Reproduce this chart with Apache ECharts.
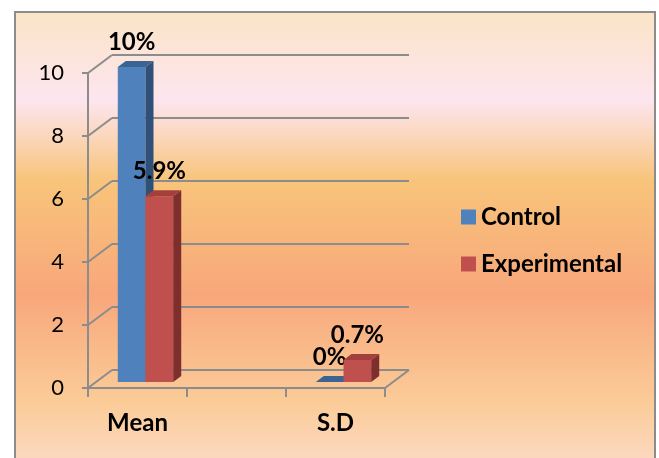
<!DOCTYPE html>
<html>
<head>
<meta charset="utf-8">
<script src="https://cdn.jsdelivr.net/npm/echarts@6/dist/echarts.min.js"></script>
<style>
html, body { margin: 0; padding: 0; background: #fff; }
#chart { width: 659px; height: 458px; }
</style>
</head>
<body>
<div id="chart"></div>
<script>
// data
var categories = ['Mean', '', 'S.D'];
var controlData = [10, null, 0];
var experimentalData = [5.9, null, 0.7];
var yTicks = [0, 2, 4, 6, 8, 10];

var GRID_COLOR = '#8c8c8c';
var FONT = 'Lato';
// oblique depth of the 3d box (px)
var DX = 24, DY = 18;

var chart = echarts.init(document.getElementById('chart'));

function toPairs(arr) {
    var out = [];
    arr.forEach(function (v, i) {
        if (v !== null) out.push([i, v]);
    });
    return out;
}

function renderWall(params, api) {
    var v = api.value(1);
    var y = api.coord([0, v])[1];
    var x0 = params.coordSys.x;
    var st = { stroke: GRID_COLOR, lineWidth: 2 };
    var children = [{ type: 'line', shape: { x1: x0, y1: y, x2: x0 + DX, y2: y - DY }, style: st }];
    if (v === 0) {
        var x1 = x0 + params.coordSys.width;
        children.push({ type: 'line', shape: { x1: x1, y1: y, x2: x1 + DX, y2: y - DY }, style: st });
    }
    return { type: 'group', children: children };
}

function makeBarRender(k, colors) {
    return function (params, api) {
        var idx = api.value(0);
        var val = api.value(1);
        var top = api.coord([idx, val]);
        var base = api.coord([idx, 0]);
        var bw = api.size([1, 0])[0];
        var w = bw * 0.28;
        // bar sits between 1/3 and 2/3 of the depth
        var ox = DX / 3, oy = DY / 3;
        var xl = top[0] - w + k * w + ox;
        var xr = xl + w;
        var yt = top[1] - oy;
        var yb = base[1] - oy;
        return {
            type: 'group',
            children: [
                { type: 'rect', shape: { x: xl, y: yt, width: w, height: yb - yt }, style: { fill: colors[0] } },
                { type: 'polygon', shape: { points: [[xl, yt], [xr, yt], [xr + ox, yt - oy], [xl + ox, yt - oy]] }, style: { fill: colors[1] } },
                { type: 'polygon', shape: { points: [[xr, yt], [xr + ox, yt - oy], [xr + ox, yb - oy], [xr, yb]] }, style: { fill: colors[2] } },
                {
                    type: 'text',
                    style: {
                        x: xl + w / 2, y: yt - 25,
                        text: val + '%',
                        align: 'center', verticalAlign: 'middle',
                        fill: '#000', font: 'bold 24px ' + FONT
                    }
                }
            ]
        };
    };
}

var option = {
    backgroundColor: '#fff',
    animation: false,
    graphic: [{
        type: 'rect',
        z: -100,
        silent: true,
        shape: { x: 15, y: 12, width: 640, height: 470 },
        style: {
            stroke: GRID_COLOR,
            lineWidth: 2,
            fill: new echarts.graphic.LinearGradient(0, 0, 0, 1, [
                { offset: 0, color: '#fbe4c6' },
                { offset: 0.19, color: '#fde5ef' },
                { offset: 0.36, color: '#f8c47a' },
                { offset: 0.6, color: '#f8a77b' },
                { offset: 0.83, color: '#fbcc98' },
                { offset: 1, color: '#fcddd0' }
            ])
        }
    }],
    legend: {
        orient: 'vertical',
        left: 456,
        top: 200,
        itemWidth: 15,
        itemHeight: 15,
        itemGap: 23,
        icon: 'rect',
        textStyle: { fontFamily: FONT, fontWeight: 'bold', fontSize: 24, color: '#000' },
        data: ['Control', 'Experimental']
    },
    grid: [
        { left: 88, right: 274, top: 73, bottom: 70 },
        { left: 112, right: 250, top: 55, bottom: 88 }
    ],
    xAxis: [
        {
            type: 'category',
            gridIndex: 0,
            data: categories,
            axisLine: { lineStyle: { color: GRID_COLOR, width: 2 } },
            axisTick: { show: true, length: 9, interval: 0, lineStyle: { color: GRID_COLOR, width: 2 } },
            axisLabel: { interval: 0, margin: 23, fontFamily: FONT, fontWeight: 'bold', fontSize: 24, color: '#000' },
            splitLine: { show: false }
        },
        {
            type: 'category',
            gridIndex: 1,
            data: categories,
            show: false
        }
    ],
    yAxis: [
        {
            type: 'value',
            gridIndex: 0,
            min: 0, max: 10, interval: 2,
            axisLine: { show: true, lineStyle: { color: GRID_COLOR, width: 2 } },
            axisTick: { show: true, length: 6, lineStyle: { color: GRID_COLOR, width: 2 } },
            axisLabel: { margin: 24, fontFamily: FONT, fontSize: 22, color: '#000' },
            splitLine: { show: false }
        },
        {
            type: 'value',
            gridIndex: 1,
            min: 0, max: 10, interval: 2,
            axisLine: { show: false },
            axisTick: { show: false },
            axisLabel: { show: false },
            splitLine: { show: true, lineStyle: { color: GRID_COLOR, width: 2 } }
        }
    ],
    series: [
        {
            type: 'custom',
            xAxisIndex: 0, yAxisIndex: 0,
            silent: true,
            renderItem: renderWall,
            data: yTicks.map(function (v) { return [0, v]; }),
            z: 1
        },
        {
            name: 'Control',
            type: 'custom',
            xAxisIndex: 0, yAxisIndex: 0,
            itemStyle: { color: '#4f81bd' },
            renderItem: makeBarRender(0, ['#4f81bd', '#3c6493', '#2f5079']),
            data: toPairs(controlData),
            z: 3
        },
        {
            name: 'Experimental',
            type: 'custom',
            xAxisIndex: 0, yAxisIndex: 0,
            itemStyle: { color: '#c0504d' },
            renderItem: makeBarRender(1, ['#c0504d', '#a3403d', '#7e2f2d']),
            data: toPairs(experimentalData),
            z: 3
        }
    ]
};

chart.setOption(option);
window.addEventListener('resize', function () {
    chart.resize();
});
</script>
</body>
</html>
